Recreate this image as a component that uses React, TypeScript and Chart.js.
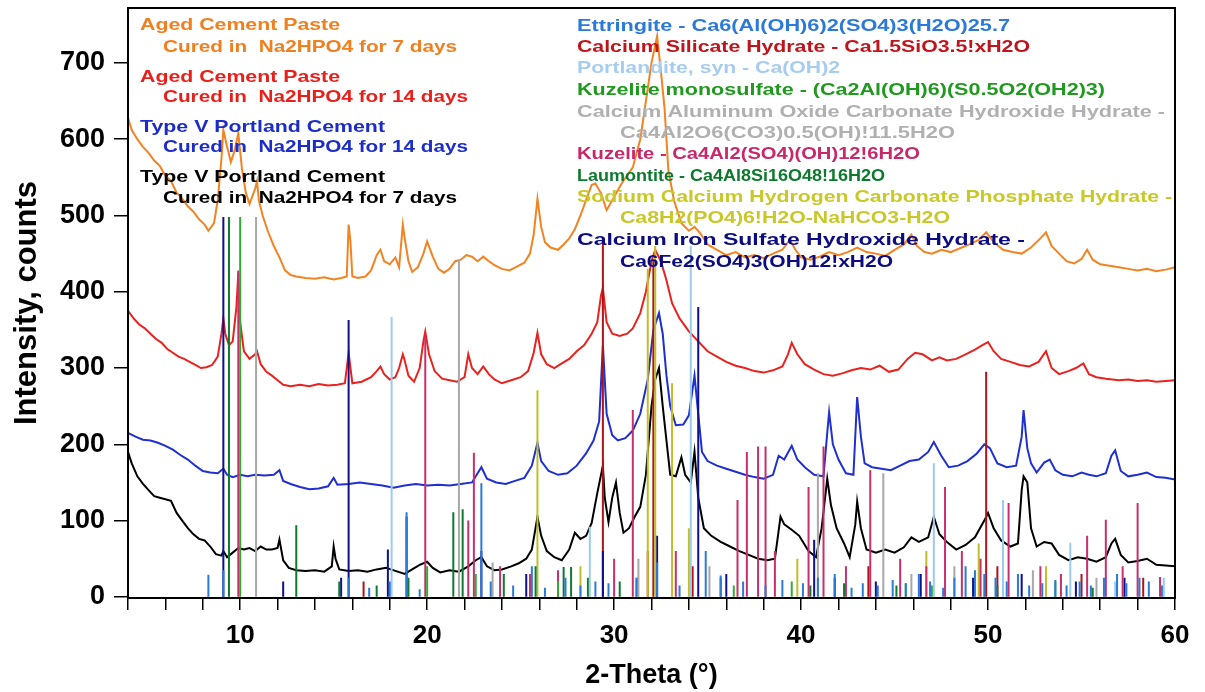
import { useEffect, useRef } from "react";
import { Chart, registerables } from "chart.js";
Chart.register(...registerables);

// ---------- tick labels ----------
const xTickValues = [4, 6, 8, 10, 12, 14, 16, 18, 20, 22, 24, 26, 28, 30, 32, 34, 36, 38, 40, 42, 44, 46, 48, 50, 52, 54, 56, 58, 60];
const xLabelValues = [10, 20, 30, 40, 50, 60];
const yTickValues = [0, 100, 200, 300, 400, 500, 600, 700];

// ---------- measured patterns [2θ, counts] ----------
const aged7: [number, number][] = [
  [4.0,628],[4.2,612],[4.5,600],[4.8,590],[5.1,582],[5.4,572],[5.7,565],[6.0,552],[6.3,545],[6.6,530],[6.9,522],[7.2,512],[7.5,505],[7.8,495],[8.1,488],[8.3,480],[8.6,490],[8.8,520],[9.0,575],[9.1,612],[9.3,590],[9.5,570],[9.7,585],[9.9,608],[10.1,560],[10.3,530],[10.5,515],[10.8,535],[10.9,545],[11.0,520],[11.2,500],[11.5,478],[11.8,460],[12.1,445],[12.4,428],[12.7,422],[13.0,420],[13.5,418],[14.0,417],[14.5,419],[15.0,416],[15.4,418],[15.7,420],[15.8,488],[15.9,465],[16.0,420],[16.3,418],[16.7,420],[17.0,428],[17.3,448],[17.5,455],[17.7,440],[18.0,436],[18.3,445],[18.5,432],[18.7,488],[18.8,470],[19.0,440],[19.2,426],[19.5,432],[19.8,450],[20.0,466],[20.3,446],[20.6,430],[20.9,425],[21.2,430],[21.5,440],[21.8,442],[22.1,448],[22.4,446],[22.7,440],[23.0,446],[23.3,440],[23.6,435],[24.0,430],[24.4,428],[24.8,433],[25.2,438],[25.5,450],[25.7,475],[25.9,522],[26.1,485],[26.3,465],[26.6,458],[27.0,455],[27.3,462],[27.6,470],[27.9,482],[28.2,500],[28.5,520],[28.8,540],[29.0,542],[29.3,529],[29.6,507],[29.9,520],[30.4,542],[31.0,563],[31.4,600],[31.7,650],[32.0,700],[32.3,735],[32.5,690],[32.7,640],[32.9,560],[33.2,520],[33.6,490],[34.0,480],[34.3,485],[34.6,477],[35.0,462],[35.5,455],[36.0,448],[36.5,452],[37.0,445],[37.5,448],[38.0,444],[38.5,450],[39.0,455],[39.4,468],[39.7,455],[40.0,445],[40.5,442],[41.0,446],[41.5,452],[42.0,448],[42.5,452],[43.0,458],[43.5,452],[44.0,450],[44.5,447],[45.0,455],[45.5,462],[45.9,475],[46.2,460],[46.6,452],[47.0,450],[47.5,455],[48.0,452],[48.5,457],[49.0,462],[49.5,468],[49.9,478],[50.3,465],[50.8,455],[51.3,452],[51.8,450],[52.3,458],[52.8,470],[53.1,478],[53.4,460],[53.8,450],[54.2,440],[54.6,437],[55.0,443],[55.3,455],[55.6,442],[56.0,436],[56.5,434],[57.0,432],[57.5,430],[58.0,428],[58.5,430],[59.0,427],[59.5,429],[60.0,432]
];

const aged14: [number, number][] = [
  [4.0,375],[4.3,365],[4.6,357],[4.9,352],[5.2,345],[5.5,338],[5.8,333],[6.1,325],[6.4,320],[6.7,315],[7.0,312],[7.3,308],[7.6,304],[7.9,300],[8.2,301],[8.5,304],[8.8,315],[9.0,345],[9.1,365],[9.2,345],[9.4,330],[9.6,335],[9.8,380],[9.9,425],[10.0,360],[10.2,322],[10.5,312],[10.8,318],[10.9,322],[11.1,305],[11.4,295],[11.7,290],[12.0,284],[12.3,278],[12.7,276],[13.2,278],[13.7,276],[14.2,279],[14.7,277],[15.2,278],[15.6,280],[15.8,320],[15.9,300],[16.0,280],[16.5,282],[17.0,288],[17.3,296],[17.5,302],[17.7,292],[18.0,285],[18.3,288],[18.5,300],[18.7,318],[18.8,310],[19.0,290],[19.3,282],[19.6,300],[19.8,335],[19.9,348],[20.1,318],[20.4,296],[20.8,286],[21.2,284],[21.6,282],[22.0,288],[22.2,318],[22.4,300],[22.7,292],[23.0,302],[23.3,292],[23.6,285],[24.0,280],[24.5,284],[25.0,288],[25.4,296],[25.7,320],[25.9,346],[26.1,318],[26.4,305],[26.8,300],[27.2,306],[27.6,312],[28.0,322],[28.4,330],[28.8,345],[29.1,360],[29.3,395],[29.4,405],[29.6,360],[29.9,345],[30.3,342],[30.7,345],[31.0,352],[31.4,372],[31.7,400],[32.0,440],[32.2,455],[32.5,440],[32.8,415],[33.1,385],[33.5,365],[34.0,348],[34.5,335],[35.0,322],[35.5,315],[36.0,308],[36.5,303],[37.0,300],[37.5,296],[38.0,294],[38.5,297],[39.0,302],[39.3,318],[39.5,333],[39.8,318],[40.2,305],[40.7,298],[41.2,292],[41.7,290],[42.2,293],[42.7,297],[43.2,300],[43.7,298],[44.2,303],[44.7,295],[45.2,298],[45.7,312],[46.1,320],[46.5,318],[47.0,310],[47.4,314],[47.8,310],[48.3,312],[48.8,318],[49.3,324],[49.7,330],[50.0,334],[50.3,322],[50.7,312],[51.2,308],[51.7,304],[52.2,302],[52.7,308],[53.1,322],[53.4,300],[53.8,292],[54.3,296],[54.7,300],[55.1,306],[55.4,292],[55.8,288],[56.3,286],[57.0,284],[57.5,285],[58.0,283],[58.5,284],[59.0,282],[59.5,283],[60.0,284]
];

const typeV14: [number, number][] = [
  [4.0,215],[4.4,210],[4.8,206],[5.2,205],[5.6,202],[6.0,198],[6.4,193],[6.8,186],[7.2,180],[7.6,172],[8.0,165],[8.4,163],[8.8,162],[9.1,168],[9.3,160],[9.6,157],[10.0,160],[10.4,158],[10.8,160],[11.3,159],[11.8,160],[12.1,166],[12.3,152],[12.7,148],[13.2,144],[13.7,141],[14.2,142],[14.7,145],[15.0,156],[15.2,147],[15.8,148],[16.4,150],[17.0,148],[17.6,146],[18.2,143],[18.8,146],[19.4,148],[20.0,146],[20.6,147],[21.2,146],[21.8,148],[22.4,150],[22.9,170],[23.2,155],[23.7,150],[24.2,148],[24.7,152],[25.2,156],[25.6,172],[25.9,202],[26.1,178],[26.5,165],[27.0,160],[27.5,162],[28.0,172],[28.5,188],[28.9,205],[29.2,230],[29.4,330],[29.6,240],[29.9,212],[30.2,205],[30.6,208],[31.0,218],[31.4,240],[31.8,285],[32.1,350],[32.4,372],[32.6,345],[32.8,290],[33.0,250],[33.3,225],[33.7,226],[34.0,238],[34.3,290],[34.5,240],[34.7,190],[35.0,178],[35.5,172],[36.0,168],[36.5,164],[37.0,160],[37.5,157],[38.0,155],[38.5,160],[38.8,185],[39.1,180],[39.5,198],[39.8,180],[40.2,170],[40.7,160],[41.2,158],[41.4,215],[41.5,242],[41.7,200],[42.0,180],[42.4,162],[42.8,160],[43.0,262],[43.2,210],[43.4,175],[43.8,170],[44.3,168],[44.8,166],[45.3,172],[45.8,178],[46.3,180],[46.8,190],[47.1,203],[47.5,185],[47.9,170],[48.4,172],[48.9,178],[49.4,188],[49.8,200],[50.1,195],[50.5,175],[51.0,170],[51.5,172],[51.8,210],[51.9,245],[52.1,195],[52.3,175],[52.6,163],[53.0,176],[53.3,180],[53.6,166],[54.0,160],[54.5,158],[55.0,163],[55.4,160],[55.8,158],[56.3,162],[56.6,185],[56.8,192],[57.1,165],[57.5,158],[58.0,160],[58.5,163],[59.0,157],[59.5,156],[60.0,154]
];

const typeV7: [number, number][] = [
  [4.0,190],[4.2,175],[4.5,158],[4.8,148],[5.1,140],[5.4,132],[5.7,130],[6.0,128],[6.3,126],[6.6,110],[6.9,100],[7.2,90],[7.5,82],[7.8,76],[8.1,74],[8.4,66],[8.7,56],[9.0,54],[9.1,60],[9.3,52],[9.6,58],[9.9,64],[10.2,62],[10.5,64],[10.8,60],[11.1,66],[11.4,62],[11.7,62],[12.0,64],[12.1,75],[12.3,48],[12.6,38],[13.0,35],[13.5,34],[14.0,35],[14.5,33],[14.9,40],[15.0,66],[15.1,50],[15.3,36],[15.8,34],[16.3,35],[16.8,33],[17.3,36],[17.8,38],[18.3,34],[18.8,30],[19.2,36],[19.6,42],[20.0,46],[20.3,38],[20.7,32],[21.2,35],[21.7,33],[22.2,40],[22.6,48],[22.9,52],[23.2,40],[23.6,35],[24.0,36],[24.5,40],[24.9,44],[25.3,50],[25.6,62],[25.9,105],[26.1,80],[26.4,60],[26.8,52],[27.2,48],[27.6,62],[27.9,84],[28.2,76],[28.5,80],[28.8,97],[29.1,136],[29.4,172],[29.5,130],[29.7,98],[29.9,130],[30.1,150],[30.3,110],[30.5,84],[30.8,90],[31.1,105],[31.4,118],[31.7,160],[32.0,250],[32.2,285],[32.4,300],[32.6,250],[32.8,205],[33.0,160],[33.3,158],[33.6,183],[33.8,160],[34.1,150],[34.3,190],[34.5,130],[34.8,90],[35.2,80],[35.7,72],[36.2,66],[36.7,60],[37.2,55],[37.7,50],[38.2,48],[38.6,50],[38.9,105],[39.1,95],[39.5,88],[39.9,80],[40.4,60],[40.8,52],[41.1,90],[41.4,155],[41.6,120],[41.9,90],[42.3,70],[42.6,52],[42.9,95],[43.0,125],[43.2,90],[43.5,62],[44.0,58],[44.5,62],[45.0,58],[45.5,65],[45.9,78],[46.3,72],[46.8,78],[47.1,105],[47.4,82],[47.8,72],[48.3,62],[48.8,68],[49.3,78],[49.8,100],[50.0,110],[50.3,90],[50.7,74],[51.2,66],[51.6,70],[51.8,140],[51.9,158],[52.1,150],[52.3,90],[52.6,66],[53.0,72],[53.4,70],[53.8,55],[54.3,48],[54.8,52],[55.3,50],[55.8,46],[56.3,52],[56.6,70],[56.8,76],[57.1,55],[57.5,45],[58.0,47],[58.5,50],[59.0,42],[59.5,41],[60.0,40]
];

// ---------- reference stick patterns [2θ, height] ----------
const ettringite: [number, number][] = [[8.3,29],[9.1,35],[15.8,25],[16.9,12],[18.0,20],[18.9,111],[19.6,10],[22.9,149],[23.4,20],[24.6,15],[25.6,40],[26.3,12],[27.4,25],[28.2,15],[29.0,20],[29.7,18],[31.2,25],[32.3,45],[33.5,15],[34.9,60],[35.7,28],[36.9,20],[38.1,15],[39.0,22],[40.1,18],[40.9,25],[41.8,30],[42.7,12],[43.3,18],[44.1,15],[44.9,22],[45.6,18],[46.3,30],[46.9,20],[47.6,12],[48.2,25],[48.8,40],[49.3,35],[49.8,30],[50.4,25],[51.0,20],[51.6,30],[52.2,15],[52.9,18],[53.6,22],[54.2,15],[54.9,20],[55.5,15],[56.2,25],[56.9,30],[57.4,18],[58.1,25],[58.6,20],[59.3,15]];
const csh: [number, number][] = [[16.6,20],[29.4,465],[31.8,60],[32.1,440],[34.2,40],[43.6,40],[49.9,295],[50.5,40],[55.0,30],[58.3,25]];
const portlandite: [number, number][] = [[18.1,367],[28.7,92],[34.1,460],[47.1,175],[50.8,127],[54.4,71],[56.8,20],[59.4,25]];
const kuzeliteMono: [number, number][] = [[10.0,498],[20.0,40],[22.6,30],[27.0,20],[31.2,25],[36.4,15],[39.5,20],[45.6,18],[47.0,15],[53.6,20]];
const caoch: [number, number][] = [[10.85,498],[21.7,442],[23.5,45],[31.3,50],[35.1,40],[40.9,162],[44.4,162],[45.9,30],[48.2,40],[52.4,35],[55.8,25]];
const kuzelite: [number, number][] = [[9.9,428],[19.9,341],[22.2,100],[22.5,189],[23.9,40],[25.5,30],[27.0,35],[30.0,50],[31.0,245],[33.3,60],[36.6,127],[37.1,190],[37.7,197],[38.1,197],[38.6,60],[40.4,144],[41.2,197],[42.4,40],[43.7,166],[45.3,50],[46.7,40],[47.7,144],[48.6,60],[49.6,50],[51.1,123],[52.8,40],[53.9,30],[55.3,80],[56.3,101],[57.2,40],[58.0,123],[59.2,26]];
const laumontite: [number, number][] = [[9.4,498],[13.0,94],[15.3,20],[17.3,15],[19.0,25],[21.4,111],[21.9,115],[24.1,30],[25.8,40],[27.3,39],[27.7,39],[28.6,25],[30.3,20],[35.7,25],[40.5,15],[42.3,18],[45.1,15],[50.5,15],[55.6,12]];
const sodiumPhosphate: [number, number][] = [[25.9,271],[28.2,40],[31.8,430],[32.2,460],[33.1,280],[34.0,90],[39.8,50],[46.7,60],[49.5,70],[53.1,40]];
const ironSulfate: [number, number][] = [[9.1,498],[12.3,20],[15.4,25],[15.8,363],[17.9,62],[18.9,105],[22.9,60],[25.3,30],[29.4,60],[32.3,80],[34.5,380],[36.0,30],[40.7,75],[41.8,25],[44.0,20],[46.4,30],[49.2,25],[51.8,30],[54.7,20],[57.3,25]];

// ---------- labels ----------
const sampleNames = [
  { title: "Aged Cement Paste", sub: "Cured in  Na2HPO4 for 7 days", color: "#f07f1e" },
  { title: "Aged Cement Paste", sub: "Cured in  Na2HPO4 for 14 days", color: "#e8201c" },
  { title: "Type V Portland Cement", sub: "Cured in  Na2HPO4 for 14 days", color: "#1c2cc8" },
  { title: "Type V Portland Cement", sub: "Cured in  Na2HPO4 for 7 days", color: "#000000" },
];
const phaseNames = [
  { lines: ["Ettringite - Ca6(Al(OH)6)2(SO4)3(H2O)25.7"], color: "#2c7ad8" },
  { lines: ["Calcium Silicate Hydrate - Ca1.5SiO3.5!xH2O"], color: "#c0141c" },
  { lines: ["Portlandite, syn - Ca(OH)2"], color: "#a6cdef" },
  { lines: ["Kuzelite monosulfate - (Ca2Al(OH)6)(S0.5O2(OH2)3)"], color: "#1f9a1f" },
  { lines: ["Calcium Aluminum Oxide Carbonate Hydroxide Hydrate -", "Ca4Al2O6(CO3)0.5(OH)!11.5H2O"], color: "#b0b0b0" },
  { lines: ["Kuzelite - Ca4Al2(SO4)(OH)12!6H2O"], color: "#c8286a" },
  { lines: ["Laumontite - Ca4Al8Si16O48!16H2O"], color: "#0c7a2c" },
  { lines: ["Sodium Calcium Hydrogen Carbonate Phosphate Hydrate -", "Ca8H2(PO4)6!H2O-NaHCO3-H2O"], color: "#c8c828" },
  { lines: ["Calcium Iron Sulfate Hydroxide Hydrate -", "Ca6Fe2(SO4)3(OH)12!xH2O"], color: "#0c0c80" },
];

// layout of the label blocks (pixel positions / widths)
const sampleLayout = [
  { y1: 25, y2: 47, w1: 200, w2: 294 },
  { y1: 77, y2: 97, w1: 200, w2: 305 },
  { y1: 127, y2: 147, w1: 245, w2: 305 },
  { y1: 177, y2: 198, w1: 245, w2: 294 },
];
const phaseLayout = [
  { y: [26], w: [433] },
  { y: [47], w: [453] },
  { y: [68], w: [263] },
  { y: [90], w: [528] },
  { y: [112, 133], w: [588, 335] },
  { y: [154], w: [343] },
  { y: [176], w: [308] },
  { y: [197, 218], w: [595, 330] },
  { y: [240, 262], w: [448, 273] },
];

const FONT = '"Liberation Sans", Arial, sans-serif';

function fitText(ctx: CanvasRenderingContext2D, text: string, x: number, y: number, width: number, color: string, size = 17) {
  ctx.save();
  ctx.font = `bold ${size}px ${FONT}`;
  ctx.fillStyle = color;
  ctx.textBaseline = "middle";
  ctx.textAlign = "left";
  const w = ctx.measureText(text).width;
  ctx.translate(x, y);
  ctx.scale(width / w, 1);
  ctx.fillText(text, 0, 0);
  ctx.restore();
}

const labelPlugin = {
  id: "labels",
  afterDraw(chart: any) {
    const ctx: CanvasRenderingContext2D = chart.ctx;
    const a = chart.chartArea;
    ctx.save();
    ctx.strokeStyle = "#000";
    ctx.lineWidth = 2;
    ctx.strokeRect(a.left, a.top, a.right - a.left, a.bottom - a.top);
    ctx.restore();
    sampleNames.forEach((s, i) => {
      const l = sampleLayout[i];
      fitText(ctx, s.title, 140, l.y1, l.w1, s.color);
      fitText(ctx, s.sub, 163, l.y2, l.w2, s.color);
    });
    phaseNames.forEach((p, i) => {
      const l = phaseLayout[i];
      p.lines.forEach((t, j) => {
        fitText(ctx, t, j === 0 ? 577 : 620, l.y[j], l.w[j], p.color);
      });
    });
  },
};

function toPts(arr: [number, number][]) {
  return arr.map(([x, y]) => ({ x, y }));
}
function toSticks(arr: [number, number][]) {
  const out: { x: number; y: number | null }[] = [];
  for (const [x, h] of arr) {
    out.push({ x, y: 0 }, { x, y: h }, { x, y: null });
  }
  return out;
}

export default function App() {
  const ref = useRef<HTMLCanvasElement | null>(null);
  useEffect(() => {
    document.body.style.margin = "0";
    const canvas = ref.current!;
    const stickSets: [string, [number, number][]][] = [
      ["#2c7ad8", ettringite],
      ["#9ccbef", portlandite],
      ["#a8a8a8", caoch],
      ["#34ac34", kuzeliteMono],
      ["#0f7a30", laumontite],
      ["#c8306c", kuzelite],
      ["#c0be2a", sodiumPhosphate],
      ["#10108a", ironSulfate],
      ["#b01418", csh],
    ];
    const curves: [string, [number, number][]][] = [
      ["#f28322", aged7],
      ["#e8221e", aged14],
      ["#1f2fd0", typeV14],
      ["#000000", typeV7],
    ];
    const datasets: any[] = [];
    stickSets.forEach(([c, d], i) => {
      datasets.push({
        data: toSticks(d),
        borderColor: c,
        borderWidth: 2,
        pointRadius: 0,
        spanGaps: false,
        order: i,
        tension: 0,
      });
    });
    curves.forEach(([c, d], i) => {
      datasets.push({
        data: toPts(d),
        borderColor: c,
        borderWidth: 2,
        pointRadius: 0,
        tension: 0,
        order: 20 + i,
      });
    });
    const chart = new Chart(canvas, {
      type: "line",
      data: { datasets },
      options: {
        animation: false,
        responsive: false,
        parsing: true,
        layout: { padding: { top: 8, right: 30, left: 0, bottom: 0 } },
        plugins: { legend: { display: false }, tooltip: { enabled: false } },
        scales: {
          x: {
            type: "linear",
            min: 4,
            max: 60,
            afterFit: (s: any) => { s.height = 94; s.paddingLeft = 0; s.paddingRight = 0; },
            afterBuildTicks: (s: any) => { s.ticks = xTickValues.map((v) => ({ value: v })); },
            grid: { drawOnChartArea: false, drawTicks: true, tickLength: 12, color: "#000", lineWidth: 1.5 },
            border: { display: true, color: "#000", width: 2 },
            ticks: {
              color: "#000",
              padding: 10,
              maxRotation: 0,
              autoSkip: false,
              font: { family: FONT, weight: "bold", size: 26 },
              callback: (v: any) => (xLabelValues.includes(Number(v)) ? String(v) : ""),
            },
            title: { display: true, text: "2-Theta (°)", color: "#000", font: { family: FONT, weight: "bold", size: 27 }, padding: { top: 0, bottom: 0 } },
          },
          y: {
            type: "linear",
            min: -1.5,
            max: 772,
            afterFit: (s: any) => { s.width = 128; s.paddingTop = 0; s.paddingBottom = 0; },
            afterBuildTicks: (s: any) => { s.ticks = yTickValues.map((v) => ({ value: v })); },
            grid: { drawOnChartArea: false, drawTicks: true, tickLength: 14, color: "#000", lineWidth: 1.5 },
            border: { display: true, color: "#000", width: 2 },
            ticks: {
              color: "#000",
              padding: 9,
              autoSkip: false,
              font: { family: FONT, weight: "bold", size: 27 },
            },
            title: { display: true, text: "Intensity, counts", color: "#000", font: { family: FONT, weight: "bold", size: 31 }, padding: { top: 9, bottom: 0 } },
          },
        },
      },
      plugins: [labelPlugin],
    });
    return () => chart.destroy();
  }, []);
  return (
    <div style={{ width: 1205, height: 692, background: "#fff" }}>
      <canvas ref={ref} width={1205} height={692} />
    </div>
  );
}
